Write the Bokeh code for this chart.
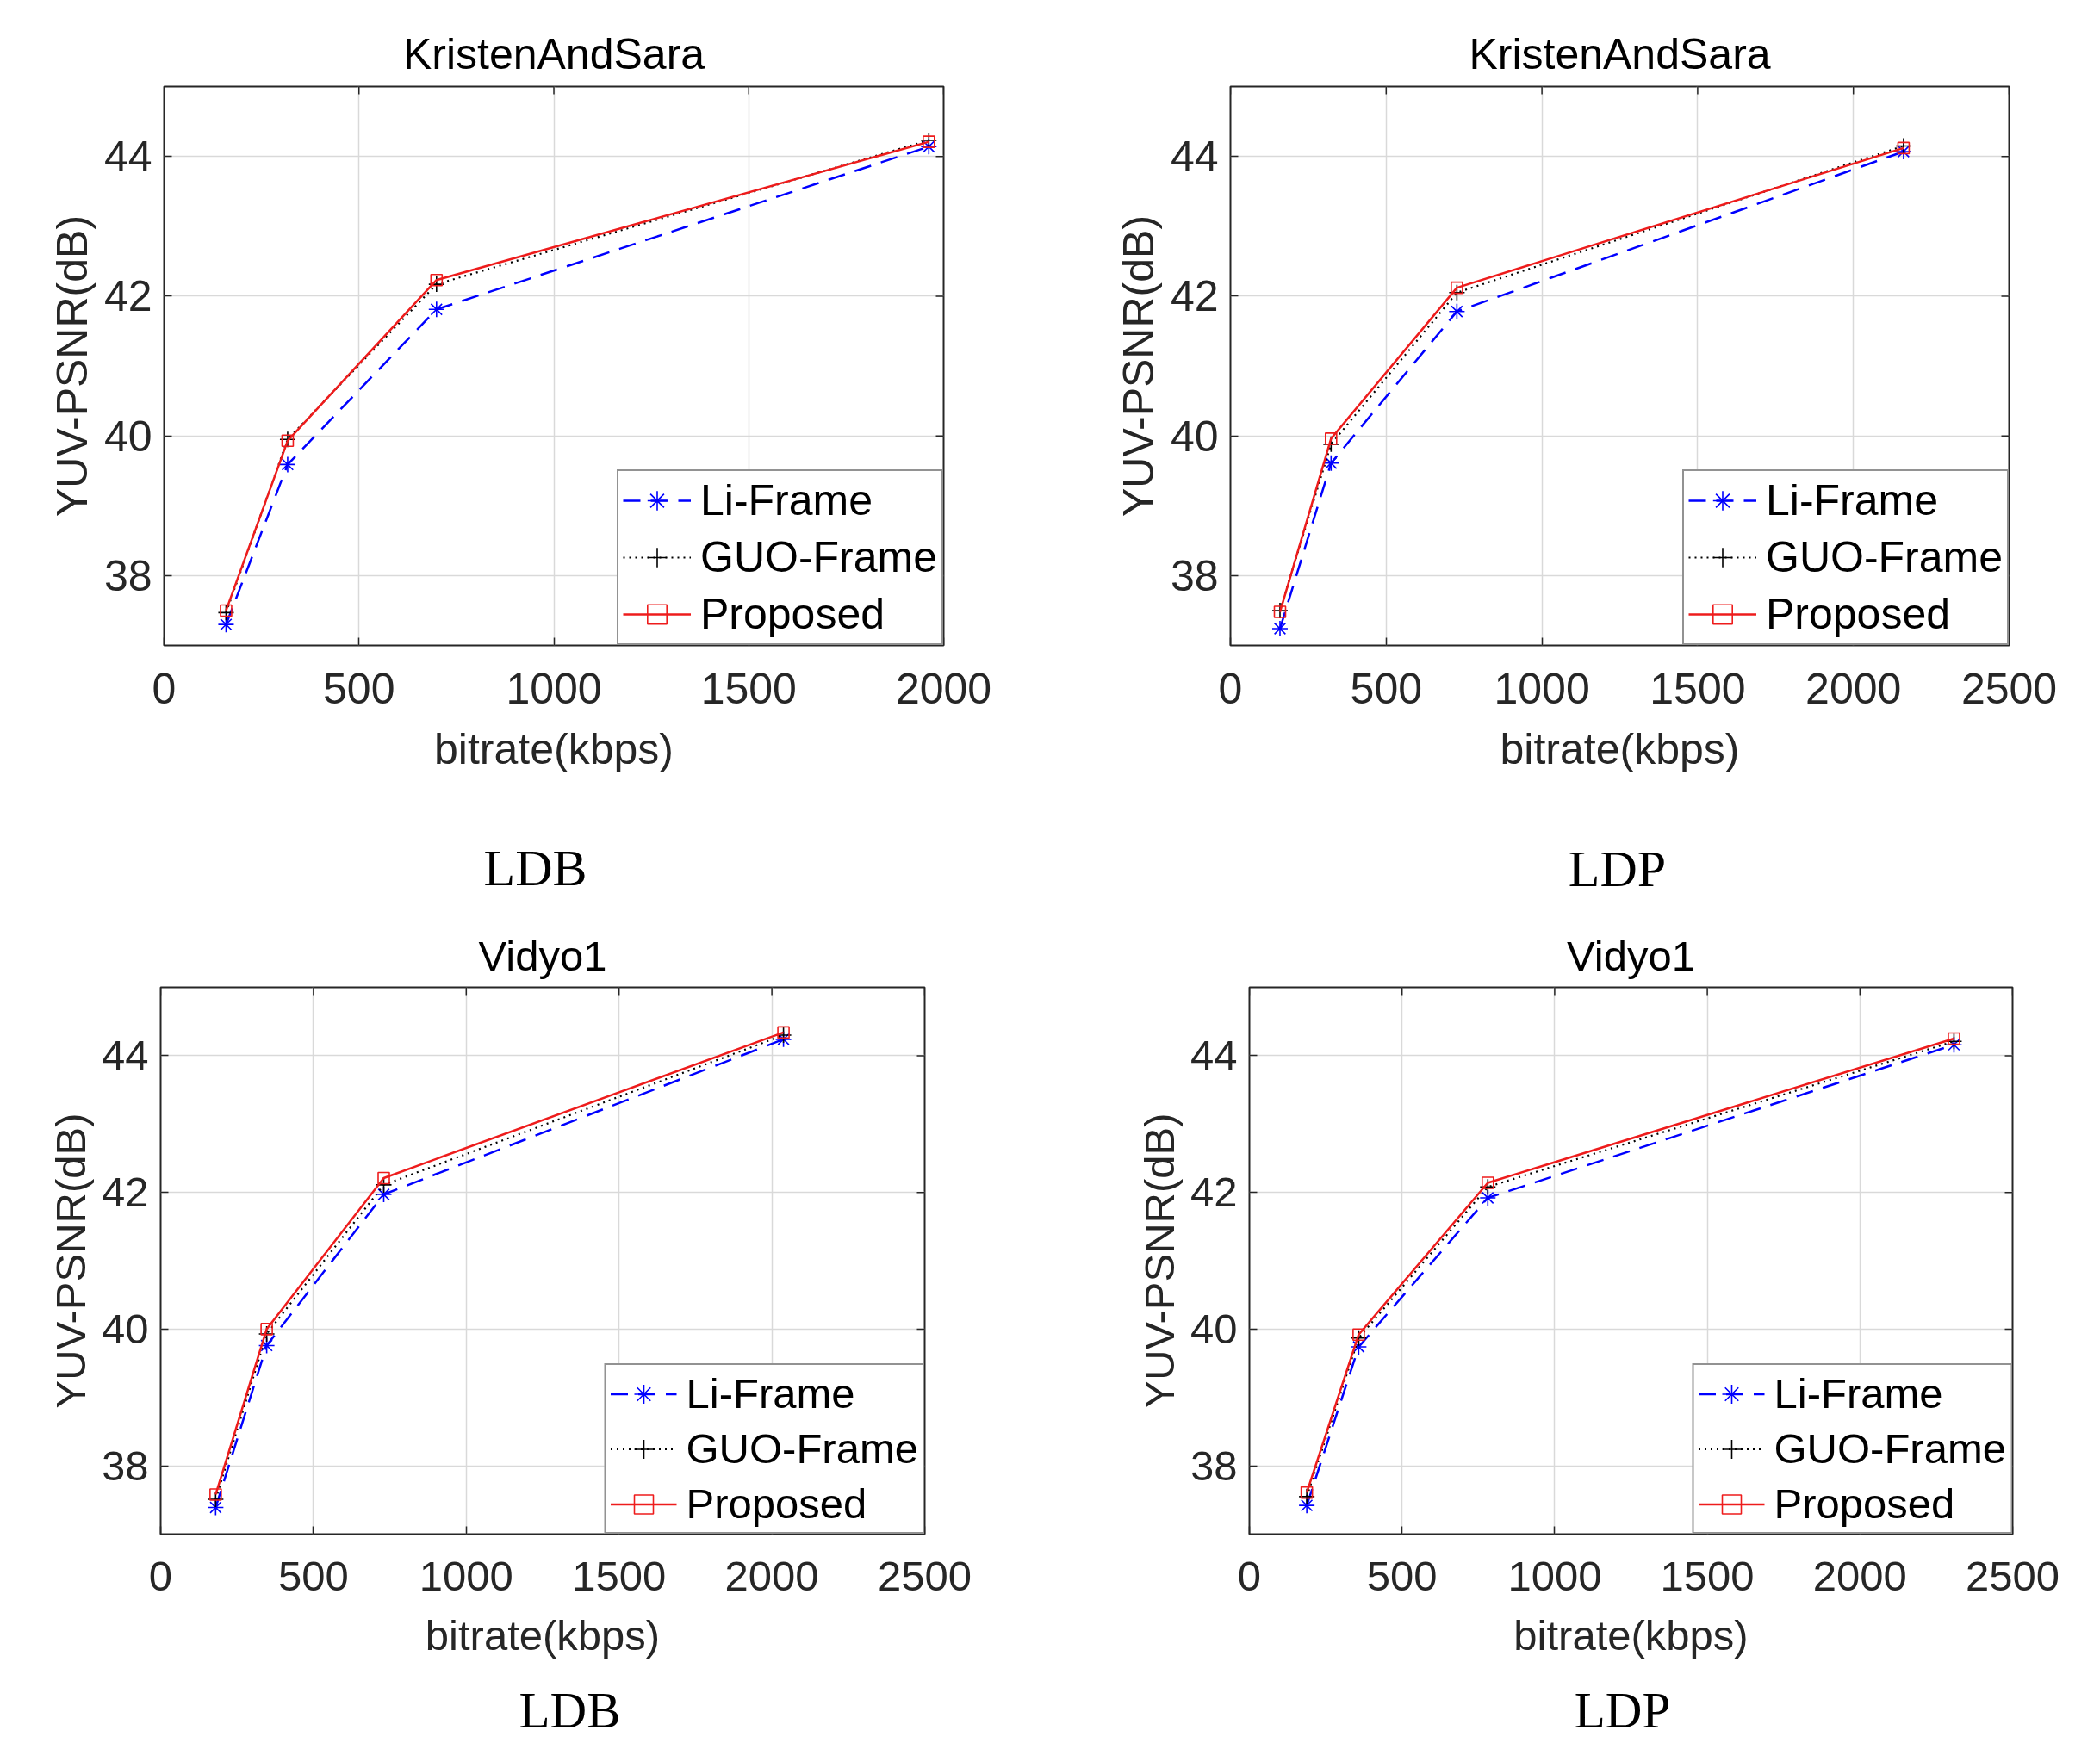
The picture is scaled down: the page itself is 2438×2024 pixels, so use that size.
import math
from bokeh.plotting import figure
from bokeh.models import Range1d, FixedTicker, Legend, LegendItem
from bokeh.core.properties import value
from bokeh.layouts import column, row
from bokeh.embed import file_html
from bokeh.resources import INLINE

# ---------------- data ----------------
panel_titles = ["KristenAndSara", "KristenAndSara", "Vidyo1", "Vidyo1"]
panel_modes = ["LDB", "LDP", "LDB", "LDP"]
series_names = ["Li-Frame", "GUO-Frame", "Proposed"]
x_axis_max = [2000, 2500, 2500, 2500]
x_tick_step = 500
y_ticks = [38, 40, 42, 44]
y_axis_range = [37, 45]

kristen_ldb_bitrate = [159, 317, 699, 1962]
kristen_ldb_li = [37.30, 39.59, 41.81, 44.14]
kristen_ldb_guo = [37.47, 39.95, 42.17, 44.23]
kristen_ldb_prop = [37.50, 39.93, 42.23, 44.21]

kristen_ldp_bitrate = [159, 323, 727, 2161]
kristen_ldp_li = [37.24, 39.61, 41.78, 44.07]
kristen_ldp_guo = [37.50, 39.88, 42.05, 44.15]
kristen_ldp_prop = [37.48, 39.96, 42.12, 44.12]

vidyo_ldb_bitrate = [180, 347, 730, 2038]
vidyo_ldb_li = [37.39, 39.76, 41.97, 44.24]
vidyo_ldb_guo = [37.51, 39.93, 42.11, 44.30]
vidyo_ldb_prop = [37.58, 40.00, 42.21, 44.34]

vidyo_ldp_bitrate = [188, 358, 781, 2308]
vidyo_ldp_li = [37.42, 39.74, 41.92, 44.16]
vidyo_ldp_guo = [37.55, 39.87, 42.08, 44.21]
vidyo_ldp_prop = [37.61, 39.92, 42.14, 44.25]

panel_bitrates = [kristen_ldb_bitrate, kristen_ldp_bitrate, vidyo_ldb_bitrate, vidyo_ldp_bitrate]
panel_series = [
    [kristen_ldb_li, kristen_ldb_guo, kristen_ldb_prop],
    [kristen_ldp_li, kristen_ldp_guo, kristen_ldp_prop],
    [vidyo_ldb_li, vidyo_ldb_guo, vidyo_ldb_prop],
    [vidyo_ldp_li, vidyo_ldp_guo, vidyo_ldp_prop],
]

# ---------------- layout (page pixel coordinates) ----------------
COL_X = [0, 1218]
COL_W = 1218
# rows: chart row 1, caption row 1, chart row 2, caption row 2
PLOT_ROW_Y = [0, 1060]
PLOT_ROW_H = [930, 882]
CAP_ROW_Y = [930, 1942]
CAP_ROW_H = [130, 80]
# frame (left, right, top, bottom) in page px
FRAMES = [(190, 1095, 100, 749), (1428, 2332, 100, 749),
          (186, 1073, 1146, 1781), (1450, 2336, 1146, 1781)]
# centre of the LDB/LDP caption in page px
CAPTION_POS = [(621, 1007), (1877, 1008), (661, 1985), (1883, 1985)]
ROW_SCALE = [1.0, 0.98]

SANS = "Liberation Sans, Arial, sans-serif"
SERIF = "Liberation Serif, Times New Roman, serif"
AXIS_GRAY = "#262626"

styles = [
    dict(color="#0000ff", dash="20 12", width=2.5, marker="asterisk", size=18),
    dict(color="#000000", dash="2 5", width=2.2, marker="cross", size=18),
    dict(color="#ee1c1c", dash="solid", width=2.5, marker="square", size=13),
]


def make_panel(i):
    r = i // 2
    c = i % 2
    s = ROW_SCALE[r]
    fl, fr, ft, fb = FRAMES[i]
    xmax = x_axis_max[i]
    fs = f"{round(50 * s)}px"
    x_ticks = list(range(0, xmax + 1, x_tick_step))
    top, h = PLOT_ROW_Y[r], PLOT_ROW_H[r]

    p = figure(
        width=COL_W, height=h,
        x_range=Range1d(0, xmax), y_range=Range1d(*y_axis_range),
        output_backend="svg", toolbar_location=None,
        min_border_left=fl - COL_X[c], min_border_right=COL_X[c] + COL_W - fr,
        min_border_top=ft - top, min_border_bottom=top + h - fb,
        background_fill_color="white", border_fill_color="white",
    )
    p.outline_line_color = AXIS_GRAY
    p.outline_line_width = 2

    p.title.text = panel_titles[i]
    p.title.align = "center"
    p.title.text_font = SANS
    p.title.text_font_size = fs
    p.title.text_font_style = "normal"
    p.title.text_color = "#000000"
    p.title.standoff = 20

    p.xaxis.ticker = FixedTicker(ticks=x_ticks)
    p.yaxis.ticker = FixedTicker(ticks=y_ticks)
    p.xaxis.axis_label = "bitrate(kbps)"
    p.yaxis.axis_label = "YUV-PSNR(dB)"

    for ax in p.axis:
        ax.axis_line_color = None
        ax.major_tick_in = 9
        ax.major_tick_out = 0
        ax.major_tick_line_color = AXIS_GRAY
        ax.major_tick_line_width = 1.5
        ax.minor_tick_line_color = None
        ax.major_label_text_font = SANS
        ax.major_label_text_font_size = fs
        ax.major_label_text_color = AXIS_GRAY
        ax.axis_label_text_font = SANS
        ax.axis_label_text_font_size = fs
        ax.axis_label_text_font_style = "normal"
        ax.axis_label_text_color = AXIS_GRAY
    p.xaxis.major_label_standoff = 32
    p.xaxis.axis_label_standoff = 22
    p.yaxis.major_label_standoff = 14
    p.yaxis.axis_label_standoff = 6

    p.xgrid.grid_line_color = "#d9d9d9"
    p.ygrid.grid_line_color = "#d9d9d9"
    p.xgrid.grid_line_width = 1.5
    p.ygrid.grid_line_width = 1.5

    # inward box ticks on the right and top edges (half of each dash is clipped by the frame)
    p.scatter([xmax] * len(y_ticks), y_ticks, marker="dash", size=18,
              line_color=AXIS_GRAY, line_width=1.5)
    p.scatter(x_ticks, [y_axis_range[1]] * len(x_ticks), marker="dash", size=18,
              angle=math.pi / 2, line_color=AXIS_GRAY, line_width=1.5)

    items = []
    x = panel_bitrates[i]
    for name, ys, st in zip(series_names, panel_series[i], styles):
        ln = p.line(x, ys, line_color=st["color"], line_width=st["width"], line_dash=st["dash"])
        if st["marker"] == "square":
            mk = p.scatter(x, ys, marker="square", size=st["size"], line_color=st["color"],
                           fill_color=None, line_width=1.6)
        else:
            mk = p.scatter(x, ys, marker=st["marker"], size=st["size"], line_color=st["color"],
                           line_width=1.6)
        items.append(LegendItem(label=name, renderers=[ln, mk]))

    legend = Legend(
        items=items, location="bottom_right", margin=0,
        padding=5, spacing=8,
        glyph_width=round(79 * s), glyph_height=round(56 * s), label_height=round(56 * s),
        label_standoff=11,
        label_text_font=SANS, label_text_font_size=fs, label_text_color="#000000",
        border_line_color=AXIS_GRAY, border_line_width=2,
        background_fill_color="white", background_fill_alpha=1.0,
    )
    p.add_layout(legend)
    return p


def make_caption(i):
    r = i // 2
    c = i % 2
    s = ROW_SCALE[r]
    top, h = CAP_ROW_Y[r], CAP_ROW_H[r]
    cap = figure(
        width=COL_W, height=h, title=None,
        x_range=Range1d(0, COL_W), y_range=Range1d(0, h),
        x_axis_location=None, y_axis_location=None,
        output_backend="svg", toolbar_location=None,
        min_border=0, outline_line_color=None,
        background_fill_color="white", border_fill_color="white",
    )
    cap.grid.visible = False
    cap.xgrid.grid_line_color = None
    cap.ygrid.grid_line_color = None
    cx, cy = CAPTION_POS[i]
    cap.text(x=[cx - COL_X[c]], y=[top + h - cy], text=[panel_modes[i]],
             text_align="center", text_baseline="middle",
             text_font=value(SERIF), text_font_size=value(f"{round(60 * s)}px"),
             text_color="#000000")
    return cap


panels = [make_panel(i) for i in range(4)]
captions = [make_caption(i) for i in range(4)]
layout = column(
    row(panels[0], panels[1]),
    row(captions[0], captions[1]),
    row(panels[2], panels[3]),
    row(captions[2], captions[3]),
)

open("out.html", "w").write(file_html(layout, INLINE))
